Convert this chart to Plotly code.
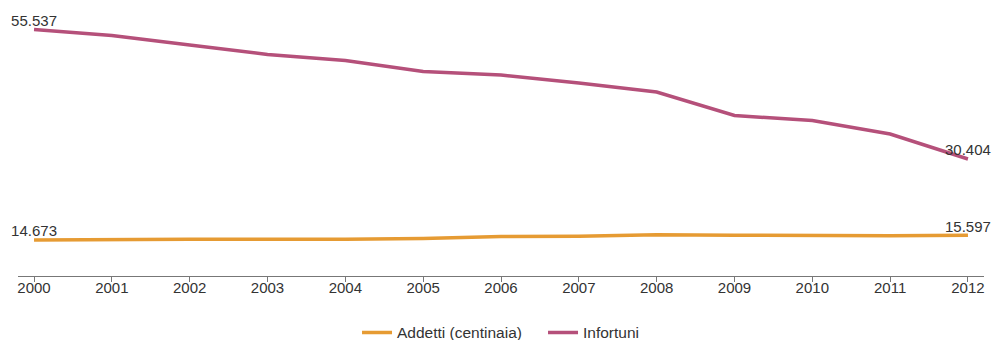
import plotly.graph_objects as go

years = [2000, 2001, 2002, 2003, 2004, 2005, 2006, 2007, 2008, 2009, 2010, 2011, 2012]
addetti = [14673, 14780, 14840, 14800, 14800, 14980, 15350, 15380, 15700, 15620, 15500, 15520, 15597]
infortuni = [55537, 54373, 52529, 50685, 49520, 47385, 46706, 45153, 43406, 38844, 37874, 35253, 30404]
series_names = ["Addetti (centinaia)", "Infortuni"]
colors = ["#E69B33", "#B5507A"]

def end_labels(vals):
    return [f"{v:,}".replace(",", ".") if i in (0, len(vals) - 1) else "" for i, v in enumerate(vals)]

fig = go.Figure()
for name, vals, col in zip(series_names, [addetti, infortuni], colors):
    fig.add_trace(go.Scatter(
        x=years, y=vals, name=name, mode="lines+text",
        line=dict(color=col, width=3.5),
        text=end_labels(vals), textposition="top center",
        textfont=dict(size=15, color="#333333", family="Liberation Sans, Arial, sans-serif"),
        cliponaxis=False, hoverinfo="skip",
    ))

fig.update_layout(
    width=994, height=340,
    margin=dict(l=18, r=10, t=20, b=64, autoexpand=False),
    paper_bgcolor="white", plot_bgcolor="white",
    font=dict(family="Liberation Sans, Arial, sans-serif", size=15, color="#333333"),
    showlegend=True,
    legend=dict(orientation="h", x=0.5435, xanchor="center", yref="container",
                y=0.021, yanchor="middle", entrywidth=141, entrywidthmode="pixels",
                font=dict(size=15.5, color="#333333")),
    xaxis=dict(range=[1999.794, 2012.206], tickmode="array", tickvals=years,
               ticktext=[str(y) for y in years], showgrid=False, zeroline=False,
               showline=True, linecolor="#777777", linewidth=1, automargin=False,
               ticks="outside", ticklen=5, tickcolor="#777777", ticklabelstandoff=-7,
               tickfont=dict(size=15, color="#333333")),
    yaxis=dict(range=[7686, 57381], visible=False, showgrid=False, zeroline=False,
               automargin=False),
)

fig.write_html("out.html", config={"displayModeBar": False},
               post_script="document.body.style.margin='0';document.body.style.overflow='hidden';")
